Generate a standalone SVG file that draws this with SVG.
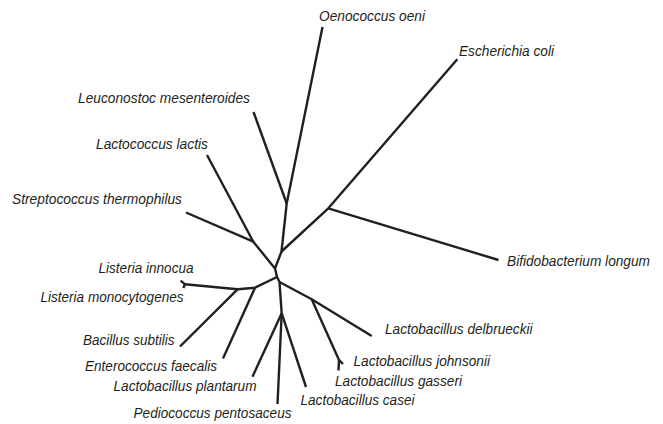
<svg xmlns="http://www.w3.org/2000/svg" width="663" height="424" viewBox="0 0 663 424">
<style>
.e{fill:none;stroke:#231f20;stroke-width:2.4;stroke-linecap:butt;stroke-linejoin:round}
.t{font-family:"Liberation Sans",Arial,sans-serif;font-style:italic;font-size:15.3px;fill:#231f20}
</style>
<rect width="663" height="424" fill="#fff"/>
<g id="connectors">
<polyline class="e" points="322.5,27 286.7,203.5 281.5,251.5 275,268.5 277,277 279.5,282 281.7,313.3"/>
<line class="e" x1="253.5" y1="112" x2="286.7" y2="203.5"/>
<polyline class="e" points="457.3,59.3 328.3,208.3 281.5,251.5"/>
<line class="e" x1="328.3" y1="208.3" x2="498.5" y2="260"/>
<polyline class="e" points="207,155 253.3,241.7 275,268.5"/>
<line class="e" x1="186" y1="212.5" x2="253.3" y2="241.7"/>
<polyline class="e" points="277,277 255,287.7 237.5,289.3 185,284.3"/>
<polyline class="e" points="180.7,280.7 185,284.3 183.3,288"/>
<line class="e" x1="237.5" y1="289.3" x2="180" y2="346.5"/>
<line class="e" x1="255" y1="287.7" x2="223" y2="358.5"/>
<polyline class="e" points="279.5,282 311.7,299.3 371.7,336"/>
<polyline class="e" points="311.7,299.3 339,360 338.5,370.5"/>
<line class="e" x1="339" y1="360" x2="343" y2="364"/>
<line class="e" x1="281.7" y1="313.3" x2="252.5" y2="376.7"/>
<line class="e" x1="281.7" y1="313.3" x2="277.5" y2="404"/>
<line class="e" x1="281.7" y1="313.3" x2="306" y2="387"/>
</g>
<g id="oenococcus"><text class="t" x="319" y="21" textLength="106" lengthAdjust="spacingAndGlyphs">Oenococcus oeni</text></g>
<g id="escherichia"><text class="t" x="459" y="56" textLength="95" lengthAdjust="spacingAndGlyphs">Escherichia coli</text></g>
<g id="leuconostoc"><text class="t" x="78" y="103" textLength="172" lengthAdjust="spacingAndGlyphs">Leuconostoc mesenteroides</text></g>
<g id="lactococcus"><text class="t" x="96" y="149" textLength="112" lengthAdjust="spacingAndGlyphs">Lactococcus lactis</text></g>
<g id="streptococcus"><text class="t" x="12" y="204" textLength="170" lengthAdjust="spacingAndGlyphs">Streptococcus thermophilus</text></g>
<g id="bifidobacterium"><text class="t" x="507" y="266" textLength="143" lengthAdjust="spacingAndGlyphs">Bifidobacterium longum</text></g>
<g id="listeria-innocua"><text class="t" x="98.5" y="273" textLength="95" lengthAdjust="spacingAndGlyphs">Listeria innocua</text></g>
<g id="listeria-monocytogenes"><text class="t" x="40.5" y="302" textLength="143" lengthAdjust="spacingAndGlyphs">Listeria monocytogenes</text></g>
<g id="bacillus"><text class="t" x="83" y="345" textLength="91.5" lengthAdjust="spacingAndGlyphs">Bacillus subtilis</text></g>
<g id="enterococcus"><text class="t" x="85" y="371" textLength="132" lengthAdjust="spacingAndGlyphs">Enterococcus faecalis</text></g>
<g id="plantarum"><text class="t" x="113.5" y="391" textLength="143" lengthAdjust="spacingAndGlyphs">Lactobacillus plantarum</text></g>
<g id="pediococcus"><text class="t" x="133.5" y="418" textLength="158" lengthAdjust="spacingAndGlyphs">Pediococcus pentosaceus</text></g>
<g id="delbrueckii"><text class="t" x="385" y="333.5" textLength="147.5" lengthAdjust="spacingAndGlyphs">Lactobacillus delbrueckii</text></g>
<g id="johnsonii"><text class="t" x="353.5" y="366" textLength="136.5" lengthAdjust="spacingAndGlyphs">Lactobacillus johnsonii</text></g>
<g id="gasseri"><text class="t" x="335" y="386" textLength="127" lengthAdjust="spacingAndGlyphs">Lactobacillus gasseri</text></g>
<g id="casei"><text class="t" x="300.5" y="405" textLength="114" lengthAdjust="spacingAndGlyphs">Lactobacillus casei</text></g>
</svg>
